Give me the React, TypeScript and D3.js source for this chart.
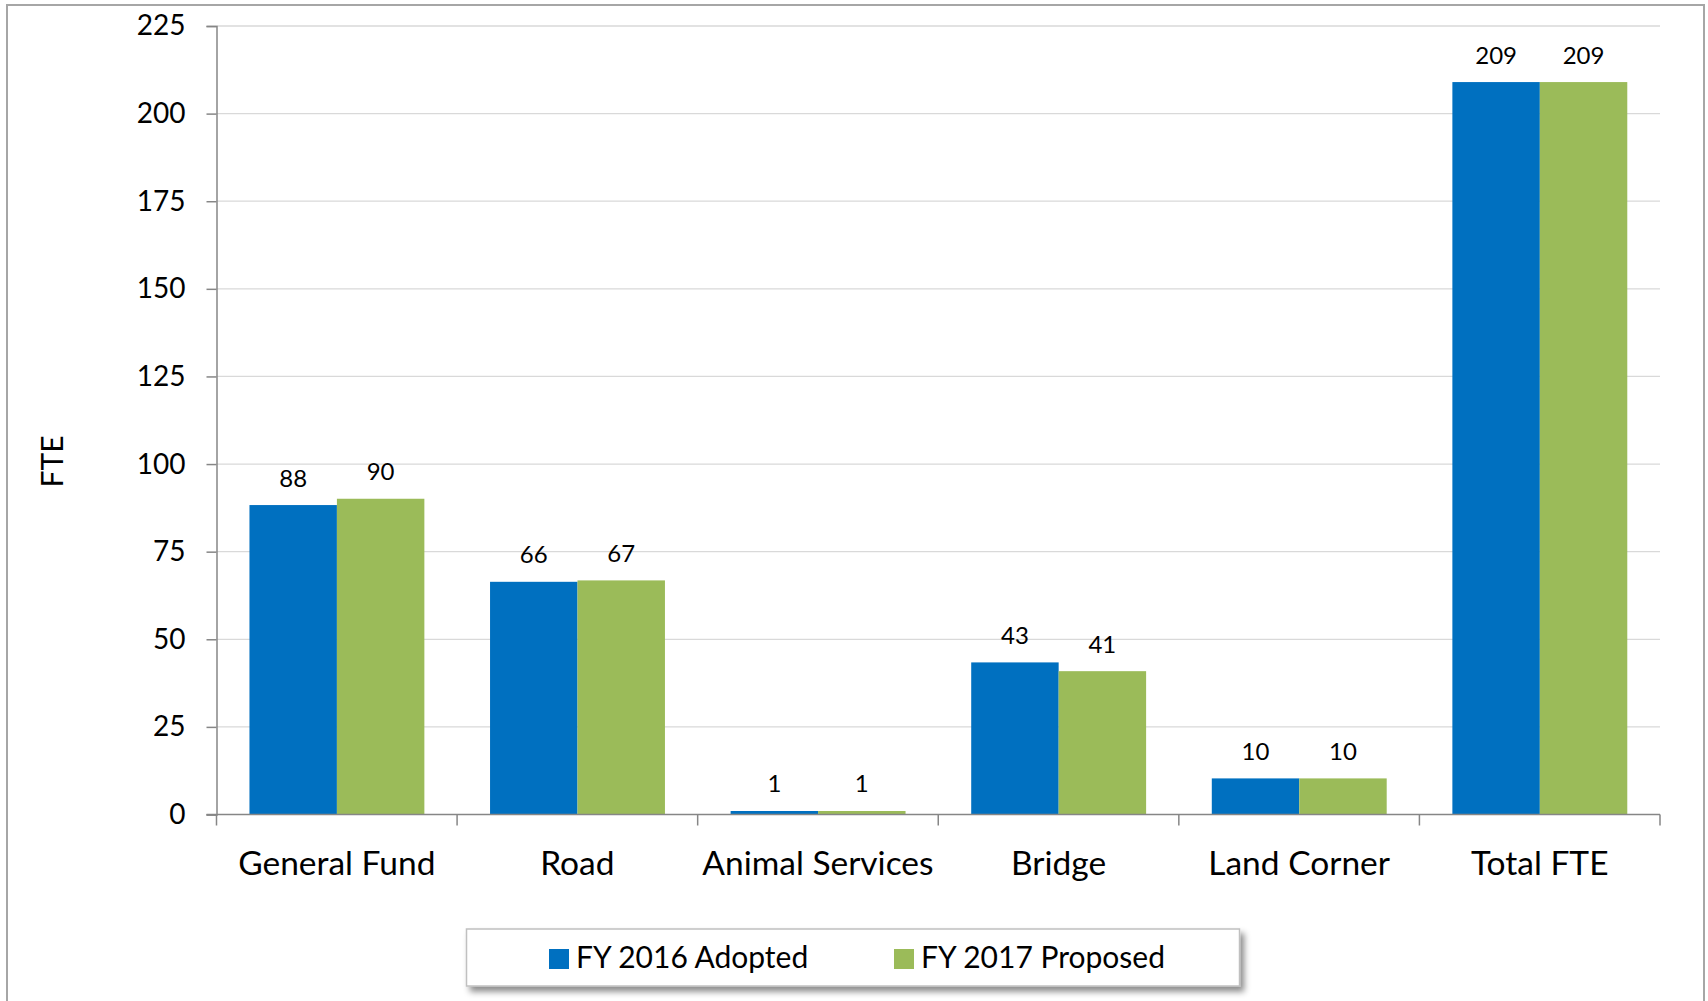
import React, { useEffect, useRef } from "react";
import * as d3 from "d3";

const categories = ["General Fund", "Road", "Animal Services", "Bridge", "Land Corner", "Total FTE"];
const fy2016Adopted = [88.3, 66.4, 1.0, 43.4, 10.3, 209];
const fy2017Proposed = [90.1, 66.8, 1.0, 40.9, 10.3, 209];
const seriesNames = ["FY 2016 Adopted", "FY 2017 Proposed"];
const seriesColors = ["#0070C0", "#9BBB59"];
const yTicks = [0, 25, 50, 75, 100, 125, 150, 175, 200, 225];
const yTitle = "FTE";

const W = 1708;
const H = 1001;
const FONT = "Lato, 'Open Sans', sans-serif";

export default function App() {
  const ref = useRef<SVGSVGElement | null>(null);

  useEffect(() => {
    const svg = d3.select(ref.current);
    svg.selectAll("*").remove();

    const left = 216.5, right = 1660, top = 26, bottom = 814.5;
    const x = d3.scaleBand<string>().domain(categories).range([left, right]).padding(0);
    const y = d3.scaleLinear().domain([0, 225]).range([bottom, top]);
    const bw = x.bandwidth();
    const barW = bw * 0.3635;
    const off = bw * 0.137;

    const defs = svg.append("defs");
    const f = defs.append("filter").attr("id", "shadow").attr("x", "-10%").attr("y", "-30%").attr("width", "120%").attr("height", "180%");
    f.append("feDropShadow").attr("dx", 4).attr("dy", 5).attr("stdDeviation", 3).attr("flood-color", "#000").attr("flood-opacity", 0.45);

    svg.append("rect").attr("x", 0).attr("y", 0).attr("width", W).attr("height", H).attr("fill", "#fff");
    svg.append("rect").attr("x", 7).attr("y", 5).attr("width", 1697).attr("height", 1010)
      .attr("fill", "none").attr("stroke", "#a6a6a6").attr("stroke-width", 2);

    // gridlines
    svg.append("g").selectAll("line").data(yTicks.filter((t) => t > 0)).join("line")
      .attr("x1", left).attr("x2", right)
      .attr("y1", (d) => y(d)).attr("y2", (d) => y(d))
      .attr("stroke", "#d9d9d9").attr("stroke-width", 1.3);

    // y axis
    const ya = svg.append("g").attr("transform", `translate(${left},0)`)
      .call(d3.axisLeft(y).tickValues(yTicks).tickSize(10).tickPadding(21).tickFormat(d3.format("d")));
    ya.select(".domain").attr("stroke", "#868686").attr("stroke-width", 1.5);
    ya.selectAll(".tick line").attr("stroke", "#868686").attr("stroke-width", 1.5);
    ya.selectAll(".tick text").attr("font-family", FONT).attr("font-size", 28).attr("fill", "#000");

    // bars
    const series = [fy2016Adopted, fy2017Proposed];
    series.forEach((vals, si) => {
      const g = svg.append("g");
      g.selectAll("rect").data(vals).join("rect")
        .attr("x", (_, i) => (x(categories[i]) as number) + off + si * barW)
        .attr("width", barW)
        .attr("y", (d) => y(d))
        .attr("height", (d) => y(0) - y(d))
        .attr("fill", seriesColors[si]);
      g.selectAll("text").data(vals).join("text")
        .attr("x", (_, i) => (x(categories[i]) as number) + off + si * barW + barW / 2)
        .attr("y", (d) => y(d) - 18.5)
        .attr("text-anchor", "middle")
        .attr("font-family", FONT).attr("font-size", 24).attr("fill", "#000")
        .text((d) => d3.format(".0f")(d));
    });

    // x axis
    svg.append("line").attr("x1", left - 10).attr("x2", right).attr("y1", bottom).attr("y2", bottom)
      .attr("stroke", "#868686").attr("stroke-width", 1.5);
    const bounds = categories.map((c) => x(c) as number).concat([right]);
    svg.append("g").selectAll("line").data(bounds).join("line")
      .attr("x1", (d) => d).attr("x2", (d) => d).attr("y1", bottom).attr("y2", bottom + 11)
      .attr("stroke", "#868686").attr("stroke-width", 1.5);
    svg.append("g").selectAll("text").data(categories).join("text")
      .attr("x", (d) => (x(d) as number) + bw / 2)
      .attr("y", 875)
      .attr("text-anchor", "middle")
      .attr("font-family", FONT).attr("font-size", 33.5).attr("fill", "#000")
      .text((d) => d);

    // y title
    svg.append("text").attr("transform", "translate(63,461.5) rotate(-90)")
      .attr("text-anchor", "middle").attr("font-family", FONT).attr("font-size", 30).attr("fill", "#000")
      .text(yTitle);

    // legend
    const lg = svg.append("g");
    lg.append("rect").attr("x", 466.5).attr("y", 929).attr("width", 773).attr("height", 57)
      .attr("fill", "#fff").attr("stroke", "#c0c0c0").attr("stroke-width", 1.5).attr("filter", "url(#shadow)");
    const lx = [549, 894];
    seriesNames.forEach((n, i) => {
      lg.append("rect").attr("x", lx[i]).attr("y", 949).attr("width", 20).attr("height", 20).attr("fill", seriesColors[i]);
      lg.append("text").attr("x", lx[i] + 27).attr("y", 968).attr("font-family", FONT).attr("font-size", 30).attr("fill", "#000").text(n);
    });
  }, []);

  return (
    <svg ref={ref} width={W} height={H} style={{ position: "absolute", left: 0, top: 0 }} />
  );
}
